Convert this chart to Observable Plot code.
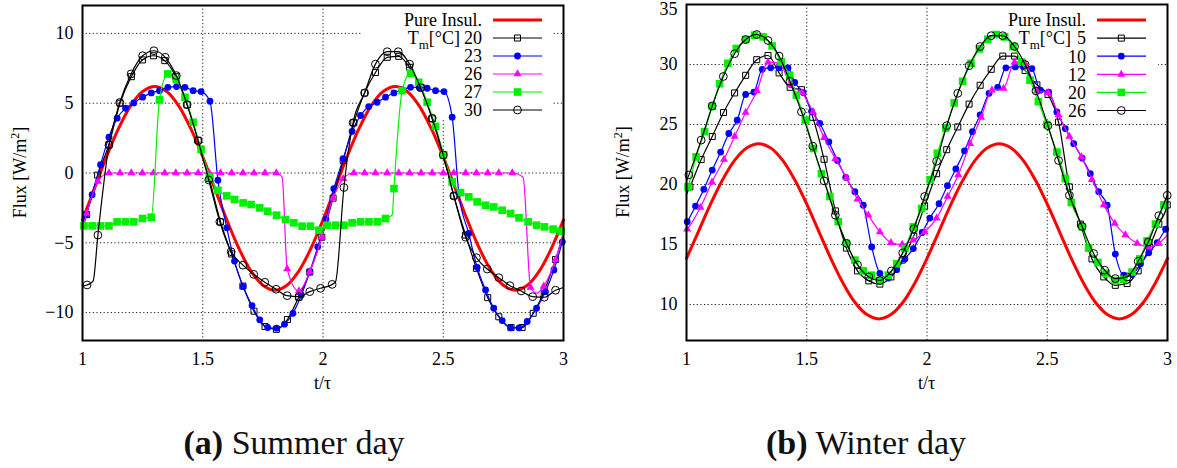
<!DOCTYPE html>
<html><head><meta charset="utf-8">
<script src="https://cdn.jsdelivr.net/npm/d3@7"></script>
<script src="https://cdn.jsdelivr.net/npm/@observablehq/plot@0.6"></script>
<style>
body{margin:0;background:#fff;width:1177px;height:468px;position:relative;overflow:hidden;font-family:"Liberation Serif","Times New Roman",Times,serif;}
svg, svg text, svg tspan{font-family:"Liberation Serif","Times New Roman",Times,serif !important;}
.panel{position:absolute;top:0;}
.cap{position:absolute;top:426px;font-size:34px;line-height:1;white-space:nowrap;color:#111;transform:translateX(-50%);}
</style></head><body>
<div id="pa" class="panel" style="left:0px"></div>
<div id="pb" class="panel" style="left:600px"></div>
<div class="cap" style="left:294px"><b>(a)</b> Summer day</div>
<div class="cap" style="left:866px"><b>(b)</b> Winter day</div>
<script>
const FONT = "Liberation Serif";
const xTicks = [1, 1.5, 2, 2.5, 3];
const yTicksSummer = [-10, -5, 0, 5, 10];
const yTicksWinter = [10, 15, 20, 25, 30, 35];

// Pure insulation curves
const tRed = [1.00,1.05,1.10,1.15,1.20,1.25,1.30,1.35,1.40,1.45,1.50,1.55,1.60,1.65,1.70,1.75,1.80,1.85,1.90,1.95,
              2.00,2.05,2.10,2.15,2.20,2.25,2.30,2.35,2.40,2.45,2.50,2.55,2.60,2.65,2.70,2.75,2.80,2.85,2.90,2.95,3.00];
const vRedSummer = [-3.36,-1.10,1.16,3.19,4.81,5.84,6.20,5.84,4.81,3.19,1.16,-1.10,-3.36,-5.39,-7.01,-8.04,-8.40,-8.04,-7.01,-5.39,
                    -3.36,-1.10,1.16,3.19,4.81,5.84,6.20,5.84,4.81,3.19,1.16,-1.10,-3.36,-5.39,-7.01,-8.04,-8.40,-8.04,-7.01,-5.39,-3.36];
const vRedWinter = [13.84,16.10,18.36,20.39,22.01,23.04,23.40,23.04,22.01,20.39,18.36,16.10,13.84,11.81,10.19,9.16,8.80,9.16,10.19,11.81,
                    13.84,16.10,18.36,20.39,22.01,23.04,23.40,23.04,22.01,20.39,18.36,16.10,13.84,11.81,10.19,9.16,8.80,9.16,10.19,11.81,13.84];

// Summer day, T_m = 20, 23, 26, 27, 30  (marker points)
const sum20 = [[1.017,-2.98],[1.063,-0.15],[1.110,2.05],[1.156,5.0],[1.203,6.9],[1.249,8.1],[1.295,8.4],[1.342,8.05],[1.388,6.9],[1.435,4.88],[1.481,2.35],[1.527,-0.4],[1.574,-3.5],[1.620,-5.8],[1.667,-8.1],[1.713,-9.9],[1.759,-11.0],[1.806,-11.2],[1.852,-10.5],[1.899,-8.9],[1.945,-7.1],[1.995,-4.6],[2.042,-1.8],[2.084,0.9],[2.128,3.6],[2.173,5.74],[2.218,7.2],[2.267,8.29],[2.315,8.36],[2.36,7.57],[2.408,6.14],[2.454,3.88],[2.5,1.26],[2.544,-1.64],[2.593,-4.45],[2.638,-6.83],[2.685,-8.93],[2.731,-10.3],[2.782,-11.07],[2.828,-11.07],[2.874,-10.05],[2.92,-8.45],[2.967,-6.2]];
const sum20Line = [[1.0,-4.0],[3.0,-4.4]];
const sum23 = [[1.013,-3.0],[1.04,-1.55],[1.075,0.6],[1.11,2.57],[1.144,3.93],[1.179,4.64],[1.213,5.02],[1.25,5.43],[1.286,5.74],[1.32,5.9],[1.355,6.14],[1.391,6.19],[1.426,6.14],[1.46,5.9],[1.493,5.83],[1.53,5.14],[1.563,-0.52],[1.6,-3.93],[1.632,-6.31],[1.668,-8.14],[1.705,-9.5],[1.737,-10.52],[1.77,-11.07],[1.807,-11.12],[1.84,-10.83],[1.875,-10.05],[1.91,-8.74],[1.945,-7.07],[1.978,-5.29],[2.012,-3.3],[2.045,-1.12],[2.084,1.02],[2.121,2.98],[2.156,4.12],[2.19,4.76],[2.225,5.07],[2.26,5.43],[2.295,5.74],[2.33,5.98],[2.364,6.14],[2.4,6.14],[2.433,6.07],[2.468,5.9],[2.503,5.83],[2.537,4.0],[2.565,-1.47],[2.606,-4.33],[2.641,-6.76],[2.676,-8.38],[2.71,-9.69],[2.745,-10.57],[2.78,-11.1],[2.815,-11.1],[2.849,-10.64],[2.888,-9.69],[2.925,-8.5],[2.96,-6.95],[2.995,-4.93]];
const sum23Line = [[1.0,-3.6],[3.0,-4.6]];
const sum26 = [[1.017,-2.9],[1.064,-0.6],[1.110,0],[1.156,0],[1.203,0],[1.249,0],[1.295,0],[1.342,0],[1.388,0],[1.435,0],[1.481,0],[1.527,0],[1.574,0],[1.620,0],[1.667,0],[1.713,0],[1.759,0],[1.806,0],[1.851,-6.88],[1.9,-8.45],[1.945,-7.07],[1.995,-4.6],[2.042,-1.8],[2.084,-0.4],[2.128,0],[2.173,0],[2.218,0],[2.267,0],[2.315,0],[2.36,0],[2.408,0],[2.454,0],[2.5,0],[2.544,0],[2.593,0],[2.638,0],[2.685,0],[2.731,0],[2.787,0],[2.863,-8.2],[2.918,-8.1],[2.967,-6.2]];
const sum26Line = [[1.0,-4.0],[1.83,-0.3],[2.832,-0.3],[2.89,-8.6],[3.0,-4.2]];
const sum27 = [[1.006,-3.79],[1.04,-3.79],[1.075,-3.79],[1.11,-3.79],[1.144,-3.5],[1.179,-3.5],[1.213,-3.5],[1.25,-3.26],[1.286,-3.17],[1.32,5.24],[1.355,7.1],[1.39,6.69],[1.426,5.43],[1.46,3.64],[1.493,1.69],[1.53,-0.29],[1.563,-1.24],[1.6,-1.64],[1.632,-1.9],[1.668,-2.14],[1.701,-2.26],[1.737,-2.5],[1.77,-2.74],[1.807,-3.02],[1.844,-3.33],[1.879,-3.57],[1.913,-3.81],[1.948,-3.81],[1.983,-4.1],[2.017,-3.74],[2.052,-3.74],[2.087,-3.74],[2.121,-3.57],[2.156,-3.5],[2.191,-3.5],[2.226,-3.5],[2.26,-3.26],[2.295,-1.12],[2.329,5.9],[2.364,7.14],[2.398,6.5],[2.433,5.07],[2.468,3.34],[2.502,1.31],[2.537,-0.64],[2.572,-1.4],[2.606,-1.71],[2.641,-2.07],[2.676,-2.31],[2.71,-2.43],[2.745,-2.67],[2.78,-2.9],[2.815,-3.21],[2.853,-3.5],[2.888,-3.74],[2.921,-3.86],[2.957,-4.02],[2.99,-4.17]];
const sum27Line = [[1.0,-3.8],[2.288,-3.0],[3.0,-4.2]];
const sum30 = [[1.019,-8.02],[1.064,-4.45],[1.11,2.0],[1.155,5.05],[1.202,7.1],[1.25,8.4],[1.297,8.76],[1.344,8.29],[1.39,6.98],[1.435,4.9],[1.481,2.3],[1.525,-0.5],[1.571,-3.5],[1.618,-5.64],[1.667,-6.6],[1.712,-7.26],[1.758,-7.83],[1.805,-8.33],[1.851,-8.79],[1.9,-8.86],[1.945,-8.5],[1.99,-8.26],[2.038,-7.98],[2.087,-1.04],[2.125,3.6],[2.173,5.74],[2.218,7.8],[2.267,8.69],[2.313,8.69],[2.36,7.8],[2.406,6.1],[2.454,3.93],[2.5,1.3],[2.544,-1.64],[2.593,-4.6],[2.638,-6.07],[2.683,-6.88],[2.731,-7.5],[2.777,-8.07],[2.824,-8.45],[2.872,-8.86],[2.92,-8.9],[2.967,-8.4]];
const sum30Line = [[1.0,-8.1],[1.044,-7.75],[2.052,-7.8],[3.0,-8.2]];

// Winter day, T_m = 5, 10, 12, 20, 26
const win5 = [[1.014,19.8],[1.061,22.08],[1.107,24.0],[1.154,26.0],[1.2,27.63],[1.246,29.1],[1.292,30.4],[1.339,30.75],[1.385,29.3],[1.431,28.1],[1.478,27.9],[1.525,25.6],[1.572,22.1],[1.619,17.8],[1.665,14.7],[1.711,12.8],[1.758,11.97],[1.804,11.7],[1.85,12.3],[1.897,13.7],[1.945,15.7],[1.99,18.2],[2.04,20.9],[2.082,22.9],[2.128,24.8],[2.175,26.7],[2.221,28.27],[2.267,29.6],[2.315,30.7],[2.364,30.7],[2.408,29.5],[2.457,28.3],[2.503,27.5],[2.547,25.2],[2.592,19.8],[2.638,16.7],[2.686,13.8],[2.735,12.3],[2.783,11.6],[2.832,11.75],[2.878,12.8],[2.925,14.8],[2.964,16.7],[2.999,18.3]];
const win5Line = [[1.0,19.2],[3.0,18.4]];
const win10 = [[1.003,16.9],[1.0375,18.2],[1.072,19.6],[1.107,21.2],[1.142,22.7],[1.176,24.25],[1.211,25.36],[1.246,27.5],[1.28,27.7],[1.315,29.6],[1.35,29.72],[1.385,29.72],[1.422,29.72],[1.45,28.5],[1.485,27.66],[1.52,26.1],[1.554,25.1],[1.592,23.55],[1.628,22.0],[1.662,20.6],[1.7,19.4],[1.735,18.27],[1.77,14.8],[1.804,12.6],[1.839,12.2],[1.874,12.9],[1.908,13.8],[1.943,14.66],[1.98,16.0],[2.012,17.2],[2.05,18.4],[2.085,19.9],[2.12,21.3],[2.156,22.8],[2.189,24.4],[2.221,25.8],[2.258,27.6],[2.294,28.1],[2.328,29.72],[2.367,29.8],[2.401,29.8],[2.436,29.66],[2.471,27.86],[2.506,27.7],[2.54,26.05],[2.575,24.66],[2.61,23.4],[2.645,22.2],[2.679,20.9],[2.714,19.4],[2.749,18.27],[2.783,14.2],[2.818,12.44],[2.853,12.5],[2.888,13.4],[2.922,14.3],[2.957,15.16],[2.992,16.27]];
const win10Line = [[1.0,16.8],[3.0,16.5]];
const win12 = [[1.003,16.27],[1.058,18.1],[1.106,20.2],[1.156,22.1],[1.2,24.0],[1.246,26.0],[1.293,27.8],[1.339,30.2],[1.387,30.1],[1.433,28.27],[1.48,27.66],[1.526,26.05],[1.572,23.9],[1.619,22.16],[1.665,20.55],[1.711,18.77],[1.756,17.44],[1.804,16.05],[1.85,15.16],[1.897,15.0],[1.943,15.36],[1.99,16.05],[2.04,17.2],[2.086,19.0],[2.13,20.8],[2.179,23.4],[2.225,25.6],[2.27,27.86],[2.318,28.0],[2.364,30.2],[2.408,30.1],[2.457,27.8],[2.503,27.66],[2.547,25.8],[2.592,24.0],[2.642,22.3],[2.686,20.4],[2.735,18.3],[2.781,16.75],[2.825,15.8],[2.874,15.1],[2.92,14.8],[2.964,15.1]];
const win12Line = [[1.0,16.2],[3.0,15.8]];
const win20 = [[1.006,19.8],[1.04,22.3],[1.075,24.4],[1.107,26.5],[1.1375,28.4],[1.172,30.1],[1.207,31.33],[1.246,32.08],[1.283,32.44],[1.318,32.3],[1.356,31.55],[1.394,30.22],[1.429,29.1],[1.457,27.44],[1.494,25.36],[1.528,23.0],[1.561,20.9],[1.596,19.0],[1.631,16.9],[1.665,15.08],[1.7,13.7],[1.735,12.8],[1.769,12.44],[1.804,12.0],[1.839,12.44],[1.874,13.4],[1.908,14.66],[1.943,16.47],[1.978,18.0],[2.013,20.4],[2.043,22.6],[2.078,24.7],[2.113,26.8],[2.148,28.6],[2.183,30.1],[2.218,31.3],[2.253,32.1],[2.288,32.5],[2.323,32.3],[2.358,31.5],[2.393,30.2],[2.428,28.7],[2.463,26.9],[2.498,25.0],[2.54,22.7],[2.575,20.5],[2.6,18.5],[2.645,16.47],[2.672,14.7],[2.711,13.5],[2.745,12.6],[2.783,12.0],[2.818,12.1],[2.853,12.7],[2.885,13.8],[2.915,15.3],[2.95,16.7],[2.985,18.3]];
const win20Line = [[1.0,19.5],[3.0,19.2]];
const win26 = [[1.010,20.8],[1.061,23.7],[1.107,26.55],[1.153,29.0],[1.200,30.9],[1.246,32.08],[1.292,32.5],[1.339,32.0],[1.385,30.7],[1.430,28.6],[1.478,26.05],[1.525,23.2],[1.572,20.3],[1.619,17.44],[1.665,15.1],[1.711,13.3],[1.758,12.3],[1.804,12.0],[1.852,12.8],[1.899,14.3],[1.945,16.3],[1.990,19.0],[2.040,21.94],[2.082,24.9],[2.128,27.6],[2.175,29.9],[2.221,31.5],[2.267,32.4],[2.315,32.4],[2.364,31.5],[2.408,30.0],[2.453,27.8],[2.503,24.9],[2.547,22.0],[2.592,19.1],[2.645,16.5],[2.693,14.25],[2.739,12.86],[2.783,12.16],[2.832,12.3],[2.878,13.6],[2.920,15.2],[2.964,17.4],[2.999,19.1]];
const win26Line = [[1.0,20.3]];

const legendSummer = ["20", "23", "26", "27", "30"];
const legendWinter = ["5", "10", "12", "20", "26"];

const BLACK = "#000", BLUE = "#0000ff", MAGENTA = "#ff00ff", GREEN = "#00f000", RED = "#ff0000";
const styles = [
  {color: BLACK, symbol: "square", r: 3.4, fill: "none", stroke: BLACK},
  {color: BLUE, symbol: "circle", r: 3.4, fill: BLUE, stroke: "none"},
  {color: MAGENTA, symbol: "triangle", r: 3.0, fill: MAGENTA, stroke: "none"},
  {color: GREEN, symbol: "square", r: 4.3, fill: GREEN, stroke: "none"},
  {color: BLACK, symbol: "circle", r: 3.9, fill: "none", stroke: BLACK}
];
const symbolMap = {square: d3.symbolSquare, circle: d3.symbolCircle, triangle: d3.symbolTriangle};
const FS = 18;

function lineData(pts, extra) {
  return pts.concat(extra).sort((a, b) => a[0] - b[0]);
}

function deco(L) {
  return () => {
    const g = d3.create("svg:g").attr("font-family", FONT).attr("font-size", FS).attr("fill", "#000");
    const rows = [{label: "Pure Insul.", color: RED, width: 3}].concat(
      L.labels.map((lab, i) => ({label: lab, color: styles[i].color, width: 1.2, st: styles[i]})));
    rows.forEach((row, i) => {
      const y = L.y0 + i * L.dy;
      g.append("text").attr("x", L.textRight).attr("y", y).attr("dy", "0.35em").attr("text-anchor", "end").text(row.label);
      g.append("line").attr("x1", L.x1).attr("x2", L.x2).attr("y1", y).attr("y2", y)
        .attr("stroke", row.color).attr("stroke-width", row.width);
      if (row.st) {
        g.append("path").attr("transform", `translate(${L.xm},${y})`)
          .attr("d", d3.symbol(symbolMap[row.st.symbol], Math.PI * row.st.r * row.st.r)())
          .attr("fill", row.st.fill).attr("stroke", row.st.stroke).attr("stroke-width", 1);
      }
    });
    const tm = g.append("text").attr("x", L.tmRight).attr("y", L.y0 + L.dy).attr("dy", "0.35em").attr("text-anchor", "end");
    tm.append("tspan").text("T");
    tm.append("tspan").attr("font-size", 13).attr("dy", 5).text("m");
    tm.append("tspan").attr("dy", -5).text("[°C]");
    const yl = g.append("text").attr("transform", `translate(${L.ylx},${L.yly}) rotate(-90)`).attr("text-anchor", "middle").attr("dy", "0.35em");
    yl.append("tspan").text("Flux [W/m");
    yl.append("tspan").attr("font-size", 12).attr("dy", -7).text("2");
    yl.append("tspan").attr("dy", 7).text("]");
    g.append("text").attr("x", L.xlx).attr("y", L.xly).attr("text-anchor", "middle").attr("dy", "0.35em").text("t/τ");
    return g.node();
  };
}

function legendBg(L) {
  return () => d3.create("svg:rect").attr("x", L.bx0).attr("y", L.by0).attr("width", L.bx1 - L.bx0).attr("height", L.by1 - L.by0).attr("fill", "#fff").node();
}

function makePanel(cfg) {
  const grid = {stroke: "#000", strokeOpacity: 1, strokeWidth: 0.9, strokeDasharray: "1.2,2.4"};
  const marks = [
    Plot.gridX({ticks: xTicks, ...grid}),
    Plot.gridY({ticks: cfg.yTicks, ...grid}),
    legendBg(cfg.legend),
    Plot.line(tRed.map((t, i) => [t, cfg.red[i]]), {x: d => d[0], y: d => d[1], stroke: RED, strokeWidth: 3, curve: "catmull-rom"})
  ];
  cfg.series.forEach((s, i) => {
    const st = styles[i];
    marks.push(Plot.line(lineData(s.pts, s.extra), {x: d => d[0], y: d => d[1], stroke: st.color, strokeWidth: 1.2, curve: "monotone-x"}));
    marks.push(Plot.dot(s.pts, {x: d => d[0], y: d => d[1], symbol: st.symbol, r: st.r, fill: st.fill, stroke: st.stroke, strokeWidth: 1}));
  });
  const yMax = cfg.yDomain[1];
  const innerTicks = cfg.yTicks.filter(d => d < yMax);
  const topTicks = cfg.yTicks.filter(d => d >= yMax);
  marks.push(
    Plot.axisX({ticks: xTicks, tickSize: 0, tickPadding: 12, tickFormat: d => String(d), label: null}),
    Plot.axisY({ticks: innerTicks, tickSize: 0, tickPadding: 9, label: null})
  );
  if (topTicks.length) marks.push(Plot.axisY({ticks: topTicks, tickSize: 0, tickPadding: 9, label: null, dy: 5}));
  marks.push(
    Plot.frame({stroke: "#000", strokeWidth: 2}),
    deco(cfg.legend)
  );
  return Plot.plot({
    width: cfg.width, height: 400,
    marginLeft: cfg.ml, marginRight: cfg.mr, marginTop: cfg.mt, marginBottom: 60,
    x: {domain: [1, 3]},
    y: {domain: cfg.yDomain},
    style: {fontFamily: "'Liberation Serif', 'Times New Roman', serif", fontSize: FS + "px", color: "#000", background: "#fff", overflow: "visible"},
    marks
  });
}

const pa = makePanel({
  width: 590, ml: 82, mr: 27, mt: 5, yDomain: [-12, 12], yTicks: yTicksSummer, red: vRedSummer,
  series: [{pts: sum20, extra: sum20Line}, {pts: sum23, extra: sum23Line}, {pts: sum26, extra: sum26Line}, {pts: sum27, extra: sum27Line}, {pts: sum30, extra: sum30Line}],
  legend: {labels: legendSummer, textRight: 482, x1: 493, x2: 542, xm: 517.5, y0: 20, dy: 18, tmRight: 460,
           bx0: 362, bx1: 553, by0: 6, by1: 118, ylx: 20, yly: 172.5, xlx: 322.5, xly: 383}
});
const pb = makePanel({
  width: 577, ml: 86, mr: 10, mt: 4, yDomain: [7, 35], yTicks: yTicksWinter, red: vRedWinter,
  series: [{pts: win5, extra: win5Line}, {pts: win10, extra: win10Line}, {pts: win12, extra: win12Line}, {pts: win20, extra: win20Line}, {pts: win26, extra: win26Line}],
  legend: {labels: legendWinter, textRight: 486, x1: 497, x2: 546, xm: 521.3, y0: 20, dy: 18.1, tmRight: 471,
           bx0: 372, bx1: 558, by0: 5, by1: 118, ylx: 23, yly: 172, xlx: 326.5, xly: 383}
});
document.getElementById("pa").appendChild(pa);
document.getElementById("pb").appendChild(pb);
</script>
</body></html>
